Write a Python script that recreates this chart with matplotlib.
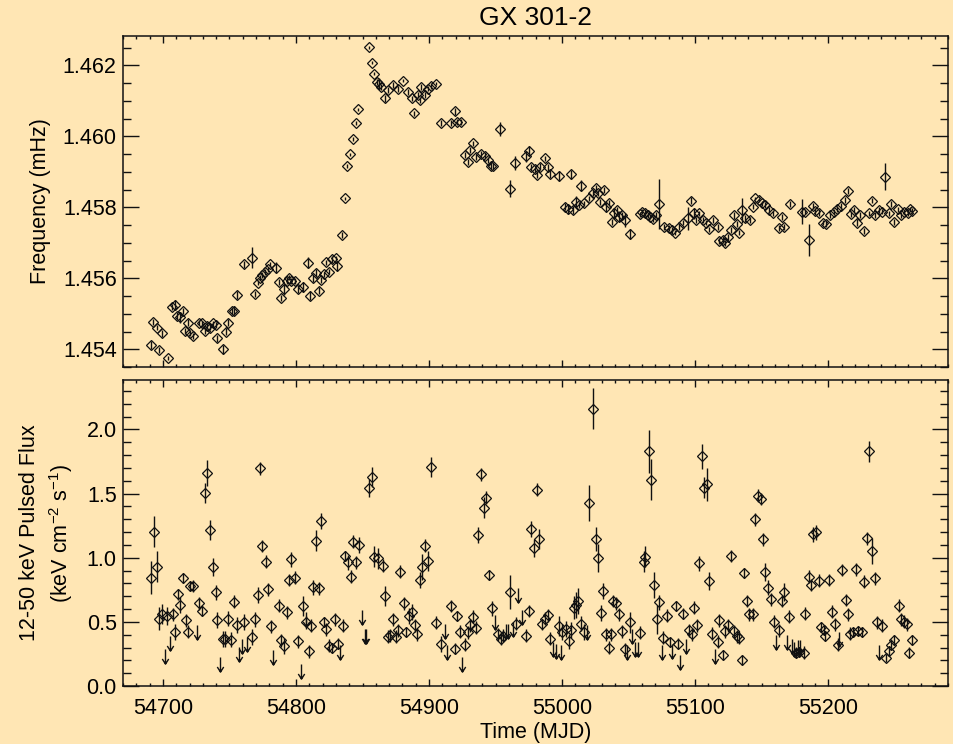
import matplotlib
matplotlib.use('Agg')
import matplotlib.pyplot as plt
from matplotlib.path import Path
from matplotlib.ticker import MultipleLocator, FormatStrFormatter
from matplotlib.transforms import ScaledTranslation

plt.rcParams['font.family'] = ['Liberation Sans', 'DejaVu Sans']
plt.rcParams['mathtext.default'] = 'regular'

# ---- top panel: spin frequency (mHz) ----
freq_mjd = [
    54691.0, 54692.7, 54695.3, 54697.2, 54699.2, 54703.5, 54706.5, 54709.0, 54710.8, 54712.8,
    54715.3, 54716.5, 54719.0, 54720.3, 54722.3, 54727.3, 54729.0, 54731.5, 54733.3, 54735.3,
    54737.8, 54739.8, 54741.0, 54745.3, 54747.3, 54749.0, 54751.6, 54753.3, 54755.3, 54760.8,
    54767.3, 54769.0, 54771.1, 54772.8, 54774.8, 54776.6, 54778.6, 54780.8, 54784.8, 54787.1,
    54789.1, 54790.8, 54792.9, 54794.8, 54796.6, 54799.6, 54801.6, 54805.3, 54809.1, 54810.9,
    54812.8, 54815.4, 54817.3, 54819.1, 54820.9, 54822.9, 54824.9, 54827.1, 54829.9, 54830.9,
    54834.9, 54837.2, 54838.7, 54840.4, 54842.9, 54845.1, 54846.9, 54854.9, 54857.1, 54858.9,
    54860.9, 54862.4, 54864.2, 54866.7, 54869.2, 54872.9, 54876.4, 54880.4, 54884.2, 54887.2,
    54889.0, 54891.7, 54893.5, 54894.2, 54897.2, 54899.2, 54901.7, 54905.5, 54908.7, 54916.2,
    54919.2, 54921.2, 54923.7, 54926.7, 54929.2, 54930.5, 54933.0, 54935.5, 54939.3, 54941.7,
    54944.2, 54946.2, 54948.0, 54953.0, 54961.0, 54964.8, 54973.0, 54974.8, 54976.8, 54979.3,
    54981.0, 54983.6, 54986.8, 54989.3, 54991.1, 54997.3, 55002.3, 55004.3, 55006.8, 55008.0,
    55010.6, 55012.5, 55014.3, 55016.8, 55020.5, 55023.0, 55025.1, 55026.8, 55028.8, 55031.3,
    55033.1, 55035.6, 55037.3, 55039.3, 55041.1, 55043.1, 55045.1, 55047.4, 55051.1, 55058.9,
    55060.4, 55062.0, 55064.2, 55066.2, 55068.2, 55070.5, 55073.1, 55076.9, 55080.1, 55082.7,
    55084.9, 55087.6, 55090.6, 55094.4, 55096.9, 55098.9, 55100.7, 55103.2, 55105.6, 55108.2,
    55110.7, 55113.2, 55117.4, 55118.2, 55120.7, 55122.7, 55124.4, 55127.0, 55129.4, 55131.2,
    55132.7, 55135.2, 55137.7, 55141.4, 55143.2, 55145.2, 55147.7, 55150.2, 55152.7, 55155.7,
    55158.2, 55162.7, 55165.2, 55166.4, 55171.2, 55180.2, 55182.7, 55185.7, 55188.2, 55190.2,
    55193.2, 55195.7, 55198.3, 55201.3, 55204.0, 55206.5, 55209.5, 55212.8, 55215.0, 55217.0,
    55219.5, 55221.3, 55223.8, 55227.1, 55230.3, 55232.9, 55235.3, 55237.8, 55240.4, 55242.8,
    55245.3, 55247.1, 55249.1, 55252.1, 55254.6, 55257.1, 55259.6, 55261.3, 55263.3,
]
freq = [
    1.45412, 1.45476, 1.45461, 1.45398, 1.45445, 1.45376, 1.45520, 1.45525, 1.45494, 1.45490,
    1.45508, 1.45452, 1.45475, 1.45445, 1.45437, 1.45475, 1.45473, 1.45452, 1.45466, 1.45461,
    1.45473, 1.45468, 1.45431, 1.45400, 1.45450, 1.45475, 1.45508, 1.45509, 1.45553, 1.45639,
    1.45658, 1.45556, 1.45588, 1.45602, 1.45609, 1.45617, 1.45625, 1.45639, 1.45630, 1.45590,
    1.45544, 1.45569, 1.45593, 1.45602, 1.45593, 1.45593, 1.45570, 1.45576, 1.45644, 1.45551,
    1.45600, 1.45616, 1.45565, 1.45595, 1.45611, 1.45645, 1.45619, 1.45654, 1.45656, 1.45635,
    1.45722, 1.45825, 1.45917, 1.45949, 1.45992, 1.46038, 1.46076, 1.46251, 1.46208, 1.46177,
    1.46154, 1.46149, 1.46140, 1.46107, 1.46130, 1.46144, 1.46134, 1.46157, 1.46126, 1.46107,
    1.46065, 1.46116, 1.46102, 1.46140, 1.46116, 1.46135, 1.46142, 1.46149, 1.46037, 1.46038,
    1.46071, 1.46041, 1.46041, 1.45947, 1.45928, 1.45961, 1.45980, 1.45941, 1.45950, 1.45944,
    1.45933, 1.45916, 1.45916, 1.46020, 1.45853, 1.45926, 1.45944, 1.45959, 1.45914, 1.45907,
    1.45891, 1.45914, 1.45938, 1.45913, 1.45894, 1.45888, 1.45802, 1.45794, 1.45893, 1.45792,
    1.45816, 1.45806, 1.45861, 1.45811, 1.45825, 1.45841, 1.45854, 1.45840, 1.45816, 1.45849,
    1.45802, 1.45813, 1.45759, 1.45783, 1.45792, 1.45774, 1.45778, 1.45764, 1.45725, 1.45780,
    1.45788, 1.45785, 1.45778, 1.45774, 1.45766, 1.45778, 1.45809, 1.45745, 1.45741, 1.45736,
    1.45729, 1.45745, 1.45757, 1.45769, 1.45819, 1.45783, 1.45764, 1.45783, 1.45764, 1.45757,
    1.45738, 1.45764, 1.45745, 1.45706, 1.45708, 1.45699, 1.45717, 1.45736, 1.45778, 1.45753,
    1.45729, 1.45792, 1.45769, 1.45764, 1.45802, 1.45825, 1.45820, 1.45811, 1.45806, 1.45792,
    1.45783, 1.45741, 1.45772, 1.45744, 1.45809, 1.45788, 1.45788, 1.45708, 1.45804, 1.45790,
    1.45785, 1.45757, 1.45753, 1.45778, 1.45788, 1.45795, 1.45804, 1.45820, 1.45847, 1.45781,
    1.45792, 1.45757, 1.45778, 1.45734, 1.45783, 1.45819, 1.45778, 1.45792, 1.45788, 1.45886,
    1.45783, 1.45809, 1.45759, 1.45794, 1.45778, 1.45788, 1.45785, 1.45794, 1.45791,
]
freq_err = [
    .00012, .00008, .00008, .00008, .00010, .00006, .00008, .00015, .00010, .00015,
    .00008, .00008, .00010, .00008, .00008, .00008, .00008, .00008, .00008, .00008,
    .00008, .00008, .00010, .00012, .00010, .00010, .00008, .00012, .00012, .00010,
    .00030, .00008, .00008, .00008, .00008, .00008, .00008, .00008, .00015, .00008,
    .00008, .00015, .00010, .00008, .00008, .00008, .00012, .00015, .00015, .00012,
    .00010, .00010, .00010, .00008, .00008, .00008, .00008, .00010, .00008, .00015,
    .00008, .00005, .00005, .00005, .00005, .00005, .00005, .00004, .00005, .00005,
    .00008, .00015, .00008, .00010, .00008, .00008, .00008, .00005, .00008, .00008,
    .00008, .00008, .00008, .00008, .00008, .00008, .00008, .00005, .00008, .00008,
    .00010, .00008, .00008, .00008, .00008, .00008, .00008, .00008, .00008, .00008,
    .00008, .00008, .00008, .00020, .00025, .00020, .00015, .00015, .00008, .00008,
    .00008, .00010, .00008, .00010, .00010, .00015, .00010, .00012, .00012, .00012,
    .00015, .00008, .00015, .00008, .00008, .00008, .00008, .00008, .00008, .00008,
    .00015, .00008, .00008, .00015, .00010, .00015, .00010, .00020, .00015, .00008,
    .00008, .00008, .00008, .00008, .00008, .00008, .00070, .00008, .00008, .00010,
    .00008, .00008, .00008, .00033, .00010, .00015, .00008, .00008, .00008, .00008,
    .00008, .00008, .00008, .00008, .00008, .00008, .00008, .00008, .00010, .00008,
    .00008, .00035, .00010, .00008, .00008, .00005, .00005, .00008, .00008, .00008,
    .00008, .00008, .00008, .00008, .00008, .00035, .00008, .00045, .00008, .00008,
    .00008, .00008, .00008, .00008, .00008, .00008, .00008, .00008, .00008, .00008,
    .00008, .00010, .00008, .00008, .00008, .00008, .00008, .00008, .00008, .00038,
    .00008, .00008, .00008, .00008, .00008, .00008, .00008, .00008, .00008,
]

# ---- bottom panel: 12-50 keV pulsed flux ----
flux_mjd = [
    54691.0, 54693.0, 54695.2, 54697.0, 54699.5, 54703.2, 54707.3, 54709.0, 54711.0, 54712.8,
    54714.8, 54717.0, 54719.0, 54720.3, 54722.3, 54727.3, 54729.0, 54731.5, 54733.3, 54735.3,
    54737.3, 54739.6, 54741.0, 54744.8, 54746.5, 54749.0, 54751.0, 54753.3, 54755.3, 54760.8,
    54767.3, 54769.0, 54771.1, 54773.3, 54774.8, 54777.1, 54779.1, 54781.1, 54787.1, 54789.1,
    54791.1, 54793.6, 54794.8, 54796.6, 54799.1, 54801.6, 54804.9, 54807.9, 54809.6, 54811.1,
    54812.8, 54815.4, 54817.3, 54819.1, 54821.1, 54822.9, 54824.9, 54827.1, 54829.1, 54831.7,
    54835.4, 54836.7, 54839.2, 54841.1, 54842.9, 54845.4, 54847.4, 54854.9, 54857.1, 54858.4,
    54861.6, 54865.4, 54867.2, 54869.2, 54870.9, 54872.9, 54874.9, 54877.0, 54878.5, 54880.9,
    54882.9, 54884.9, 54887.2, 54889.2, 54890.9, 54892.9, 54895.0, 54897.2, 54899.2, 54901.2,
    54905.5, 54909.2, 54916.7, 54919.2, 54921.0, 54923.0, 54926.7, 54929.2, 54931.0, 54933.0,
    54935.5, 54936.7, 54939.3, 54941.2, 54943.0, 54945.0, 54947.2, 54951.7, 54953.8, 54955.5,
    54961.0, 54965.0, 54973.0, 54974.8, 54976.8, 54978.8, 54981.0, 54983.0, 54985.0, 54986.8,
    54989.3, 54991.1, 54997.3, 55000.1, 55003.1, 55005.0, 55006.8, 55008.8, 55010.6, 55012.3,
    55014.3, 55016.8, 55020.5, 55023.0, 55025.1, 55026.8, 55029.3, 55031.1, 55033.1, 55035.1,
    55036.9, 55038.6, 55040.6, 55042.6, 55044.8, 55047.4, 55051.1, 55058.6, 55061.9, 55062.6,
    55065.1, 55066.9, 55068.8, 55071.1, 55072.6, 55076.1, 55078.9, 55081.2, 55085.7, 55086.9,
    55090.6, 55095.1, 55097.4, 55098.9, 55101.1, 55102.6, 55104.9, 55106.9, 55108.9, 55110.7,
    55112.7, 55116.9, 55118.2, 55120.7, 55122.7, 55124.4, 55127.0, 55129.4, 55131.5, 55133.2,
    55135.2, 55136.9, 55138.7, 55140.7, 55143.2, 55145.0, 55147.0, 55149.5, 55150.7, 55152.7,
    55155.0, 55157.0, 55159.0, 55162.7, 55165.0, 55167.0, 55170.7, 55175.8, 55178.2, 55181.5,
    55182.7, 55185.2, 55187.0, 55188.7, 55190.7, 55192.7, 55194.5, 55196.9, 55197.7, 55200.7,
    55202.7, 55205.2, 55207.7, 55210.7, 55213.3, 55215.2, 55216.3, 55218.7, 55220.8, 55222.7,
    55225.3, 55227.0, 55228.8, 55230.8, 55232.9, 55235.1, 55236.6, 55240.4, 55243.4, 55245.4,
    55247.1, 55249.6, 55252.9, 55254.6, 55257.1, 55259.1, 55260.8, 55263.3,
]
flux = [
    0.844, 1.203, 0.930, 0.526, 0.563, 0.547, 0.558, 0.422, 0.714, 0.630,
    0.844, 0.513, 0.422, 0.781, 0.779, 0.644, 0.584, 1.503, 1.659, 1.216,
    0.927, 0.730, 0.513, 0.365, 0.365, 0.526, 0.362, 0.656, 0.474, 0.500,
    0.383, 0.519, 0.709, 1.698, 1.091, 0.969, 0.755, 0.466, 0.625, 0.357,
    0.313, 0.573, 0.826, 0.987, 0.844, 0.349, 0.623, 0.495, 0.271, 0.469,
    0.769, 1.133, 0.761, 1.287, 0.500, 0.443, 0.313, 0.297, 0.521, 0.331,
    0.469, 1.016, 0.964, 0.852, 1.125, 0.964, 1.099, 1.542, 1.628, 1.008,
    0.995, 0.938, 0.703, 0.383, 0.396, 0.521, 0.383, 0.435, 0.891, 0.644,
    0.422, 0.547, 0.578, 0.474, 0.402, 0.826, 0.925, 1.094, 0.974, 1.706,
    0.492, 0.326, 0.623, 0.292, 0.547, 0.422, 0.323, 0.417, 0.474, 0.539,
    0.453, 1.177, 1.651, 1.391, 1.469, 0.865, 0.605, 0.402, 0.370, 0.391,
    0.734, 0.487, 0.391, 0.584, 1.224, 1.078, 1.529, 1.146, 0.480, 0.526,
    0.552, 0.370, 0.469, 0.422, 0.443, 0.349, 0.435, 0.609, 0.630, 0.662,
    0.487, 0.422, 1.425, 2.162, 1.146, 0.995, 0.570, 0.740, 0.402, 0.297,
    0.402, 0.662, 0.644, 0.558, 0.427, 0.287, 0.495, 0.414, 0.969, 1.008,
    1.828, 1.607, 0.787, 0.519, 0.652, 0.375, 0.547, 0.344, 0.623, 0.331,
    0.565, 0.435, 0.402, 0.609, 0.474, 0.956, 1.789, 1.547, 1.573, 0.820,
    0.409, 0.344, 0.513, 0.240, 0.427, 0.474, 1.013, 0.427, 0.388, 0.375,
    0.201, 0.883, 0.662, 0.558, 0.558, 1.300, 1.484, 1.458, 1.143, 0.891,
    0.766, 0.677, 0.500, 0.435, 0.662, 0.730, 0.539, 0.261, 0.266, 0.261,
    0.565, 0.852, 0.787, 1.183, 1.198, 0.820, 0.461, 0.435, 0.391, 0.826,
    0.578, 0.480, 0.323, 0.904, 0.670, 0.558, 0.409, 0.422, 0.909, 0.427,
    0.422, 0.813, 1.151, 1.828, 1.052, 0.839, 0.495, 0.469, 0.219, 0.271,
    0.323, 0.357, 0.625, 0.521, 0.500, 0.480, 0.261, 0.357,
]
flux_err = [
    0.13, 0.12, 0.12, 0.09, 0.08, 0.07, 0.05, 0.06, 0.04, 0.06,
    0.04, 0.05, 0.05, 0.04, 0.05, 0.05, 0.04, 0.08, 0.10, 0.08,
    0.07, 0.06, 0.06, 0.06, 0.06, 0.06, 0.06, 0.05, 0.06, 0.06,
    0.06, 0.06, 0.06, 0.05, 0.05, 0.05, 0.05, 0.05, 0.05, 0.05,
    0.06, 0.05, 0.05, 0.06, 0.05, 0.05, 0.08, 0.05, 0.05, 0.05,
    0.06, 0.08, 0.05, 0.06, 0.04, 0.05, 0.05, 0.04, 0.05, 0.04,
    0.05, 0.04, 0.06, 0.05, 0.05, 0.05, 0.06, 0.07, 0.08, 0.08,
    0.08, 0.05, 0.08, 0.05, 0.05, 0.05, 0.05, 0.05, 0.05, 0.05,
    0.04, 0.06, 0.06, 0.05, 0.05, 0.06, 0.10, 0.05, 0.08, 0.08,
    0.05, 0.06, 0.05, 0.04, 0.04, 0.05, 0.05, 0.05, 0.05, 0.05,
    0.05, 0.06, 0.05, 0.08, 0.05, 0.04, 0.06, 0.05, 0.05, 0.05,
    0.13, 0.05, 0.05, 0.05, 0.06, 0.07, 0.05, 0.08, 0.04, 0.05,
    0.05, 0.05, 0.08, 0.06, 0.06, 0.06, 0.06, 0.09, 0.10, 0.10,
    0.06, 0.06, 0.14, 0.16, 0.09, 0.11, 0.06, 0.06, 0.05, 0.05,
    0.05, 0.05, 0.05, 0.05, 0.05, 0.05, 0.08, 0.05, 0.08, 0.08,
    0.17, 0.16, 0.10, 0.11, 0.06, 0.05, 0.05, 0.04, 0.04, 0.04,
    0.04, 0.05, 0.05, 0.05, 0.05, 0.06, 0.10, 0.08, 0.13, 0.07,
    0.05, 0.05, 0.05, 0.04, 0.05, 0.05, 0.05, 0.05, 0.05, 0.05,
    0.04, 0.04, 0.05, 0.05, 0.05, 0.05, 0.05, 0.05, 0.05, 0.07,
    0.06, 0.05, 0.05, 0.05, 0.05, 0.07, 0.05, 0.04, 0.04, 0.05,
    0.05, 0.05, 0.05, 0.06, 0.06, 0.05, 0.04, 0.04, 0.04, 0.05,
    0.05, 0.05, 0.05, 0.05, 0.05, 0.05, 0.05, 0.04, 0.05, 0.04,
    0.04, 0.05, 0.05, 0.08, 0.10, 0.05, 0.05, 0.05, 0.03, 0.04,
    0.04, 0.04, 0.05, 0.05, 0.05, 0.05, 0.04, 0.04,
]

# upper limits (drawn as down arrows)
ul_mjd = [
    54701.5, 54705.3, 54725.8, 54742.8, 54757.3, 54759.8, 54763.3, 54782.8, 54803.4, 54807.4,
    54832.9, 54849.9, 54851.7, 54852.9, 54911.7, 54913.4, 54925.0, 54949.2, 54957.5, 54959.2,
    54963.0, 54966.7, 54970.0, 54993.0, 54995.5, 54999.3, 55018.9, 55048.6, 55052.6, 55055.1,
    55056.8, 55075.1, 55082.7, 55088.9, 55093.2, 55115.2, 55160.7, 55168.7, 55172.7, 55174.5,
    55177.0, 55179.0, 55208.3, 55238.4,
]
ul_flux = [
    0.287, 0.390, 0.474, 0.227, 0.305, 0.370, 0.383, 0.279, 0.175, 0.573,
    0.323, 0.591, 0.448, 0.448, 0.487, 0.318, 0.227, 0.552, 0.487, 0.480,
    0.500, 0.761, 0.591, 0.344, 0.331, 0.318, 0.474, 0.318, 0.448, 0.344,
    0.344, 0.323, 0.331, 0.240, 0.370, 0.292, 0.396, 0.396, 0.370, 0.344,
    0.357, 0.357, 0.417, 0.318,
]

bg = '#FFE6B4'
ink = '#111111'

# down-arrow marker: tail at the data point, head below
arrow = Path([(0, 0), (0, -1), (-0.22, -0.65), (0, -1), (0.22, -0.65)],
             [Path.MOVETO, Path.LINETO, Path.MOVETO, Path.LINETO, Path.LINETO])

fig = plt.figure(figsize=(9.54, 7.44), dpi=100, facecolor=bg)
ax1 = fig.add_axes([123 / 954, 1 - 367 / 744, 825 / 954, 331 / 744])
ax2 = fig.add_axes([123 / 954, 1 - 686 / 744, 825 / 954, 306 / 744])

ax1.errorbar(freq_mjd, freq, yerr=freq_err, fmt='D', ms=4.6, mfc='none', mec=ink,
             mew=0.9, ecolor=ink, elinewidth=1.0, capsize=0)
ax2.errorbar(flux_mjd, flux, yerr=flux_err, fmt='D', ms=4.6, mfc='none', mec=ink,
             mew=0.9, ecolor=ink, elinewidth=1.0, capsize=0)
ax2.plot(ul_mjd, ul_flux, linestyle='none', marker=arrow, ms=21, mfc='none',
         mec=ink, mew=1.0)

for ax in (ax1, ax2):
    ax.set_facecolor(bg)
    ax.set_xlim(54670, 55290)
    ax.xaxis.set_major_locator(MultipleLocator(100))
    ax.xaxis.set_minor_locator(MultipleLocator(10))
    for s in ax.spines.values():
        s.set_color(ink)
        s.set_linewidth(1.1)
    ax.tick_params(which='both', direction='in', top=True, right=True,
                   colors=ink, labelcolor='black', width=1.0, labelsize=15.5)
    ax.tick_params(axis='y', which='major', length=11.5, pad=4.5)
    ax.tick_params(axis='y', which='minor', length=6)
    ax.tick_params(axis='x', which='major', length=5, pad=9)
    ax.tick_params(axis='x', which='minor', length=2.5)

ax1.set_ylim(1.4535, 1.46283)
ax1.yaxis.set_major_locator(MultipleLocator(0.002))
ax1.yaxis.set_minor_locator(MultipleLocator(0.0005))
ax1.yaxis.set_major_formatter(FormatStrFormatter('%.3f'))
ax1.tick_params(labelbottom=False)
ax1.set_title('GX 301-2', fontsize=19, pad=8)
ax1.set_ylabel('Frequency (mHz)', fontsize=15.5, va='center')
ax1.yaxis.set_label_coords(-82 / 825, 0.5)

ax2.set_ylim(0, 2.385)
ax2.yaxis.set_major_locator(MultipleLocator(0.5))
ax2.yaxis.set_minor_locator(MultipleLocator(0.1))
ax2.yaxis.set_major_formatter(FormatStrFormatter('%.1f'))
ax2.set_ylabel('12-50 keV Pulsed Flux\n(keV cm$^{-2}$ s$^{-1}$)', fontsize=15.5,
               va='center', linespacing=1.35)
ax2.yaxis.set_label_coords(-76 / 825, 0.5)
ax2.set_xlabel('Time (MJD)', fontsize=15.5, labelpad=2)

# the "0.0" label sits a little above its tick, as in the original
fig.canvas.draw()
lab0 = ax2.yaxis.get_major_ticks()[0].label1
lab0.set_transform(lab0.get_transform() + ScaledTranslation(0, 6 / 100, fig.dpi_scale_trans))

fig.savefig('out.png', dpi=100, facecolor=bg)
